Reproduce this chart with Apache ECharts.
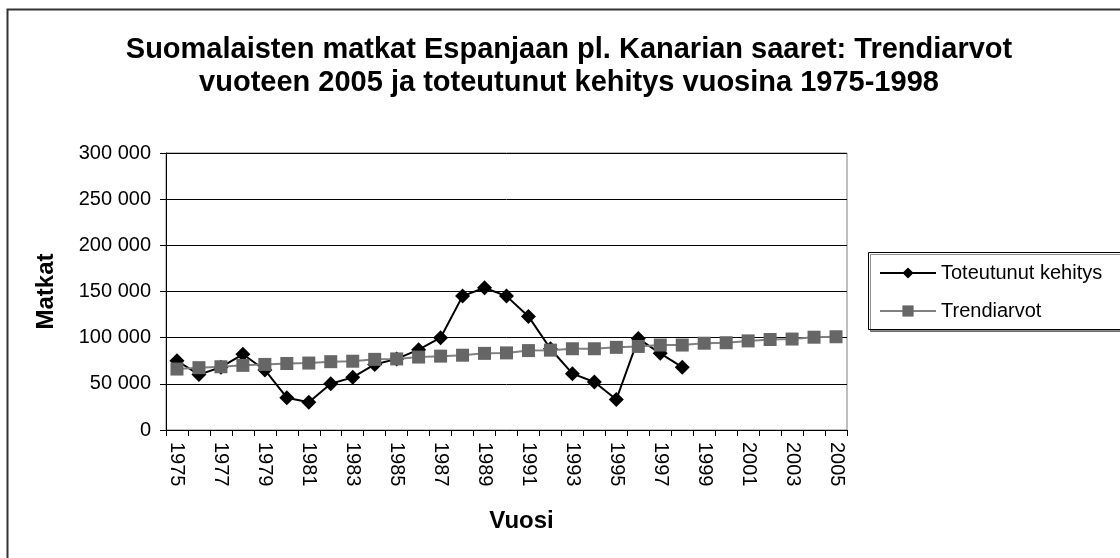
<!DOCTYPE html>
<html>
<head>
<meta charset="utf-8">
<script src="https://cdn.jsdelivr.net/npm/echarts@6/dist/echarts.min.js"></script>
<style>
html,body{margin:0;padding:0;background:#fff;}
#chart{width:1120px;height:558px;}
</style>
</head>
<body>
<div id="chart"></div>
<script>
const years = ['1975','1976','1977','1978','1979','1980','1981','1982','1983','1984','1985','1986','1987','1988','1989','1990','1991','1992','1993','1994','1995','1996','1997','1998','1999','2000','2001','2002','2003','2004','2005'];
const actualName = 'Toteutunut kehitys';
const trendName = 'Trendiarvot';
const actual = [75000, 60000, 68000, 82000, 65000, 35000, 30000, 50000, 57000, 71000, 77000, 87000, 100000, 145000, 154000, 145000, 123000, 88000, 61000, 52000, 33000, 99000, 83000, 68000];
const trend = [66000, 67500, 68500, 70000, 71000, 72000, 72500, 74000, 74500, 76500, 77000, 79000, 80000, 81000, 83000, 83500, 86000, 86500, 88000, 88000, 89500, 90500, 92000, 92000, 94000, 94500, 96500, 98000, 98500, 100500, 101000];
const titleText = 'Suomalaisten matkat Espanjaan pl. Kanarian saaret: Trendiarvot\nvuoteen 2005 ja toteutunut kehitys vuosina 1975-1998';
const xName = 'Vuosi';
const yName = 'Matkat';

const FONT = '"Liberation Sans", Arial, sans-serif';
const chart = echarts.init(document.getElementById('chart'), null, {renderer: 'canvas'});
chart.setOption({
  animation: false,
  backgroundColor: '#fff',
  textStyle: {fontFamily: FONT},
  title: {
    text: titleText,
    left: 564, top: 28,
    textAlign: 'center',
    textStyle: {fontFamily: FONT, fontSize: 29, fontWeight: 'bold', color: '#000', lineHeight: 33}
  },
  graphic: [
    {type: 'rect', shape: {x: 7.5, y: 9.5, width: 1300, height: 700}, style: {fill: 'none', stroke: '#333', lineWidth: 2}, z: 0, silent: true},
    {type: 'rect', shape: {x: 868.5, y: 252.5, width: 400, height: 77}, style: {fill: '#fff', stroke: '#000', lineWidth: 1, shadowColor: 'rgba(0,0,0,0.45)', shadowOffsetY: 2, shadowOffsetX: 2, shadowBlur: 0}, z: 1, silent: true}
  ],
  legend: {
    left: 874, top: 258,
    orient: 'vertical',
    itemWidth: 56, itemHeight: 14,
    itemGap: 18,
    z: 5,
    textStyle: {fontFamily: FONT, fontSize: 20, color: '#000', lineHeight: 20},
    data: [actualName, trendName]
  },
  grid: {
    left: 166, right: 273, top: 153, bottom: 128,
    show: true, borderColor: '#808080', borderWidth: 1, backgroundColor: 'transparent'
  },
  xAxis: {
    type: 'category',
    data: years,
    boundaryGap: true,
    name: xName,
    nameLocation: 'middle',
    nameGap: 79,
    nameTextStyle: {fontFamily: FONT, fontSize: 24, fontWeight: 'bold', color: '#000', padding: [0, 0, 0, 30]},
    axisLine: {show: true, onZero: false, lineStyle: {color: '#000', width: 1}},
    axisTick: {show: true, inside: false, length: 6, interval: 0, alignWithLabel: false, lineStyle: {color: '#000'}},
    axisLabel: {interval: 1, rotate: -90, margin: 12, fontFamily: FONT, fontSize: 20, color: '#000'},
    splitLine: {show: false}
  },
  yAxis: {
    type: 'value',
    min: 0, max: 300000, interval: 50000,
    name: yName,
    nameLocation: 'middle',
    nameGap: 108,
    nameRotate: 90,
    nameTextStyle: {fontFamily: FONT, fontSize: 24, fontWeight: 'bold', color: '#000'},
    axisLine: {show: true, lineStyle: {color: '#000', width: 1}},
    axisTick: {show: true, inside: false, length: 6, lineStyle: {color: '#000'}},
    axisLabel: {
      margin: 15, fontFamily: FONT, fontSize: 20, color: '#000',
      formatter: v => String(v).replace(/\B(?=(\d{3})+(?!\d))/g, ' ')
    },
    splitLine: {show: true, lineStyle: {color: '#000', width: 1}}
  },
  series: [
    {
      name: actualName,
      type: 'line',
      data: actual,
      symbol: 'diamond',
      symbolSize: 15,
      showAllSymbol: true,
      itemStyle: {color: '#000'},
      lineStyle: {color: '#000', width: 2},
      z: 3
    },
    {
      name: trendName,
      type: 'line',
      data: trend,
      symbol: 'rect',
      symbolSize: 13,
      showAllSymbol: true,
      itemStyle: {color: '#666'},
      lineStyle: {color: '#808080', width: 2},
      z: 4
    }
  ]
});
</script>
</body>
</html>
